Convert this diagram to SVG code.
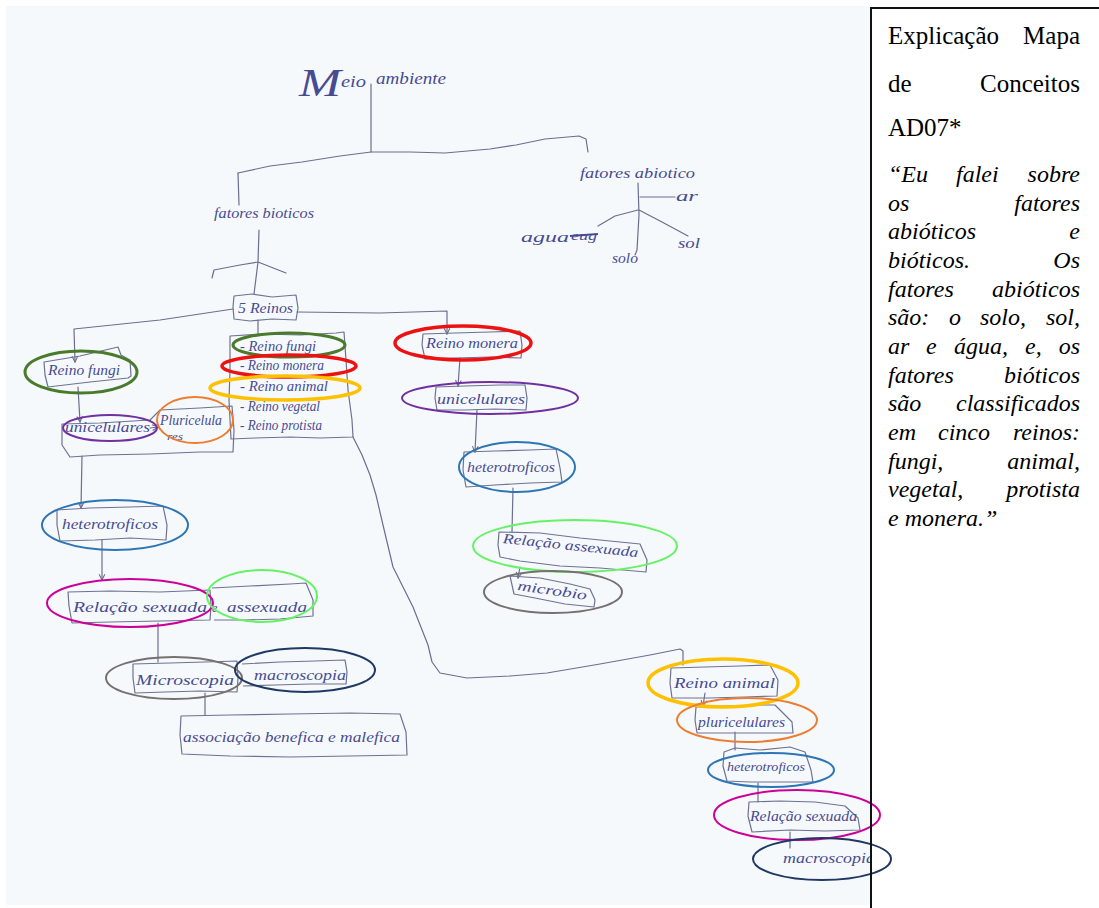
<svg xmlns="http://www.w3.org/2000/svg" width="1099" height="908" viewBox="0 0 1099 908">
  <style>
    .ink { font-family: "Liberation Serif", "DejaVu Serif", serif; font-style: italic; fill: #474b92; font-size: 14px; }
    .pen { fill: none; stroke: #6a6e90; stroke-width: 1.2; stroke-linecap: round; stroke-linejoin: round; }
    .box { fill: none; stroke: #6e7293; stroke-width: 1.2; stroke-linejoin: round; }
    .ring { fill: none; }
    .doc { font-family: "Liberation Serif", "Times New Roman", serif; fill: #000; font-size: 25px; }
    .quote { font-family: "Liberation Serif", "Times New Roman", serif; font-style: italic; fill: #000; font-size: 24px; }
    .end { text-anchor: end; }
  </style>
  <defs>
    <marker id="tip" viewBox="0 0 10 10" refX="9" refY="5" markerWidth="6" markerHeight="6" orient="auto">
      <path d="M1,1 L9,5 L1,9" fill="none" stroke="#6a6e90" stroke-width="1.5"/>
    </marker>
    <clipPath id="sheet">
      <rect x="6" y="6" width="864" height="899"/>
    </clipPath>
  </defs>

  <!-- paper -->
  <rect x="0" y="0" width="1099" height="908" fill="#ffffff"/>
  <rect x="6" y="6" width="864" height="899" fill="#f6f9fb"/>

  <!-- connectors -->
  <g id="connectors" class="pen">
    <path d="M371,84 L371,152"/>
    <path d="M238,173 L270,166 L302,162 L340,156 L371,152 L410,152 L445,153 L490,149 L516,145 L545,139 L579,136 L586,139 L588,152"/>
    <path d="M238,173 L239,205"/>
    <path d="M259,230 L258,262 M212,278 L214,270 L240,265 L258,262 L286,273 M258,262 L254,294"/>
    <path d="M638,183 L639,215 L637,250 L635,255"/>
    <path d="M640,197 L675,197"/>
    <path d="M638,210 L615,216 L598,226"/>
    <path d="M639,210 L662,222 L688,236"/>
    <path d="M233,309 L160,320 L74,329 L75,362" marker-end="url(#tip)"/>
    <path d="M297,312 L380,313 L447,311 L447,334" marker-end="url(#tip)"/>
    <path d="M258,320 L258,334"/>
    <path d="M353,437 L362,455 L370,475 L376,495 L383,525 L393,567 L413,607 L428,645 L432,662 L440,673 L467,678 L510,676 L547,673 L600,664 L650,655 L680,649 L683,651 L683,665"/>
    <path d="M78,387 L80,422" marker-end="url(#tip)"/>
    <path d="M150,428 L158,427" marker-end="url(#tip)"/>
    <path d="M82,456 L81,508" marker-end="url(#tip)"/>
    <path d="M102,540 L102,580" marker-end="url(#tip)"/>
    <path d="M158,623 L158,662"/>
    <path d="M205,693 L205,715"/>
    <path d="M460,358 L458,386" marker-end="url(#tip)"/>
    <path d="M477,410 L475,452" marker-end="url(#tip)"/>
    <path d="M513,488 L512,532"/>
    <path d="M520,567 L518,578" marker-end="url(#tip)"/>
    <path d="M705,693 L703,706" marker-end="url(#tip)"/>
    <path d="M735,732 L735,750"/>
    <path d="M758,783 L758,802"/>
    <path d="M790,832 L790,848"/>
  </g>

  <!-- hand-written map -->
  <g clip-path="url(#sheet)">
    <g id="meio-ambiente">
      <text class="ink" x="299" y="96" style="font-size:40px" textLength="42" lengthAdjust="spacingAndGlyphs">M</text>
      <text class="ink" x="341" y="87" style="font-size:17px" textLength="25" lengthAdjust="spacingAndGlyphs">eio</text>
      <text class="ink" x="376" y="84" style="font-size:16px" textLength="70" lengthAdjust="spacingAndGlyphs">ambiente</text>
    </g>
    <g id="fatores-bioticos">
      <text class="ink" x="214" y="218" textLength="100" lengthAdjust="spacingAndGlyphs">fatores bioticos</text>
    </g>
    <g id="fatores-abioticos">
      <text class="ink" x="580" y="178" textLength="115" lengthAdjust="spacingAndGlyphs">fatores abiotico</text>
    </g>
    <g id="ar"><text class="ink" x="676" y="201" textLength="22" lengthAdjust="spacingAndGlyphs">ar</text></g>
    <g id="agua">
      <text class="ink" x="521" y="242" textLength="48" lengthAdjust="spacingAndGlyphs">agua</text>
      <text class="ink" x="571" y="240" style="font-size:13px" textLength="26" lengthAdjust="spacingAndGlyphs">eug</text>
      <path d="M570,236 L598,234" fill="none" stroke="#474b92" stroke-width="2"/>
    </g>
    <g id="solo"><text class="ink" x="612" y="263" textLength="26" lengthAdjust="spacingAndGlyphs">solo</text></g>
    <g id="sol"><text class="ink" x="678" y="248" textLength="22" lengthAdjust="spacingAndGlyphs">sol</text></g>

    <g id="cinco-reinos">
      <path class="box" d="M234,296 L252,294 L272,297 L296,295 L298,308 L296,320 L272,319 L250,321 L234,319 L233,307 Z"/>
      <text class="ink" x="238" y="313" textLength="55" lengthAdjust="spacingAndGlyphs">5 Reinos</text>
    </g>
    <g id="lista-reinos">
      <path class="box" d="M230,336 L262,334 L300,335 L336,333 L344,332 L346,360 L348,390 L352,420 L353,437 L320,438 L290,437 L255,438 L231,439 L229,400 L230,370 Z"/>
      <text class="ink" x="240" y="351" textLength="76" lengthAdjust="spacingAndGlyphs">- Reino fungi</text>
      <text class="ink" x="240" y="370" textLength="84" lengthAdjust="spacingAndGlyphs">- Reino monera</text>
      <text class="ink" x="240" y="391" textLength="88" lengthAdjust="spacingAndGlyphs">- Reino animal</text>
      <text class="ink" x="240" y="411" textLength="80" lengthAdjust="spacingAndGlyphs">- Reino vegetal</text>
      <text class="ink" x="240" y="430" textLength="82" lengthAdjust="spacingAndGlyphs">- Reino protista</text>
    </g>

    <g id="reino-fungi">
      <path class="box" d="M44,362 L80,356 L118,347 L121,355 L130,360 L131,376 L128,378 L90,382 L48,387 L45,375 Z"/>
      <text class="ink" x="48" y="375" textLength="72" lengthAdjust="spacingAndGlyphs">Reino fungi</text>
    </g>
    <g id="celulas-fungi">
      <path class="box" d="M62,424 L100,423 L150,420 L160,410 L200,408 L232,406 L234,430 L233,452 L200,452 L150,454 L100,455 L70,457 L62,445 Z"/>
      <text class="ink" x="65" y="432" textLength="85" lengthAdjust="spacingAndGlyphs">unicelulares</text>
      <text class="ink" x="160" y="425" textLength="62" lengthAdjust="spacingAndGlyphs">Pluricelula</text>
      <text class="ink" x="167" y="440" style="font-size:11px" textLength="16" lengthAdjust="spacingAndGlyphs">res</text>
    </g>
    <g id="heterotroficos-fungi">
      <path class="box" d="M57,510 L90,508 L130,507 L163,506 L167,525 L166,540 L130,538 L95,540 L60,541 L57,525 Z"/>
      <text class="ink" x="62" y="529" textLength="96" lengthAdjust="spacingAndGlyphs">heterotroficos</text>
    </g>
    <g id="relacao-sexuada-fungi">
      <path class="box" d="M68,592 L110,591 L160,592 L210,590 L211,606 L210,620 L160,621 L110,622 L72,623 L69,606 Z"/>
      <text class="ink" x="73" y="612" textLength="134" lengthAdjust="spacingAndGlyphs">Relação sexuada</text>
      <text class="ink" x="212" y="612" style="font-size:12px">e</text>
    </g>
    <g id="assexuada-fungi">
      <path class="box" d="M212,588 L250,586 L290,584 L306,583 L313,600 L313,616 L280,619 L245,620 L214,620"/>
      <text class="ink" x="227" y="612" textLength="80" lengthAdjust="spacingAndGlyphs">assexuada</text>
    </g>
    <g id="microscopia">
      <path class="box" d="M133,664 L170,663 L205,662 L237,661 L238,678 L237,692 L200,691 L165,692 L135,693 L133,678 Z"/>
      <text class="ink" x="136" y="685" style="font-size:15px" textLength="98" lengthAdjust="spacingAndGlyphs">Microscopia</text>
    </g>
    <g id="macroscopia-fungi">
      <path class="box" d="M242,664 L280,662 L315,661 L345,660 L347,672 L346,684 L310,684 L275,685 L243,686"/>
      <text class="ink" x="254" y="680" textLength="92" lengthAdjust="spacingAndGlyphs">macroscopia</text>
    </g>
    <g id="associacao">
      <path class="box" d="M181,716 L230,715 L290,714 L350,713 L400,714 L406,732 L407,755 L350,756 L290,757 L230,756 L182,754 L180,735 Z"/>
      <text class="ink" x="183" y="742" textLength="217" lengthAdjust="spacingAndGlyphs">associação benefica e malefica</text>
    </g>

    <g id="reino-monera">
      <path class="box" d="M423,334 L455,333 L490,332 L520,331 L522,345 L521,358 L490,357 L455,358 L425,359 L422,345 Z"/>
      <text class="ink" x="426" y="348" textLength="92" lengthAdjust="spacingAndGlyphs">Reino monera</text>
    </g>
    <g id="unicelulares-monera">
      <path class="box" d="M436,387 L465,386 L500,385 L525,385 L527,398 L526,410 L495,409 L465,410 L437,410 L435,398 Z"/>
      <text class="ink" x="437" y="404" textLength="88" lengthAdjust="spacingAndGlyphs">unicelulares</text>
    </g>
    <g id="heterotroficos-monera">
      <path class="box" d="M464,452 L495,451 L530,450 L556,449 L560,468 L562,482 L530,483 L495,485 L466,487 L463,470 Z"/>
      <text class="ink" x="467" y="472" textLength="88" lengthAdjust="spacingAndGlyphs">heterotroficos</text>
    </g>
    <g id="relacao-assexuada-monera">
      <path class="box" d="M499,532 L540,533 L580,538 L620,542 L640,544 L647,560 L646,572 L600,568 L560,566 L520,561 L500,557 L498,545 Z"/>
      <text class="ink" x="502" y="550" transform="rotate(6 570 552)" textLength="136" lengthAdjust="spacingAndGlyphs">Relação assexuada</text>
    </g>
    <g id="microbio">
      <path class="box" d="M510,576 L540,578 L570,584 L590,589 L595,600 L594,607 L565,604 L535,598 L514,594 L512,585 Z"/>
      <text class="ink" x="517" y="595" transform="rotate(8 552 592)" textLength="70" lengthAdjust="spacingAndGlyphs">microbio</text>
    </g>

    <g id="reino-animal">
      <path class="box" d="M671,668 L705,667 L740,666 L770,665 L778,680 L777,696 L745,697 L710,698 L672,698 L670,683 Z"/>
      <text class="ink" x="674" y="688" textLength="101" lengthAdjust="spacingAndGlyphs">Reino animal</text>
    </g>
    <g id="pluricelulares-animal">
      <path class="box" d="M696,707 L725,706 L760,705 L775,705 L792,722 L793,733 L760,733 L725,733 L697,733 L695,720 Z"/>
      <text class="ink" x="698" y="727" textLength="87" lengthAdjust="spacingAndGlyphs">pluricelulares</text>
    </g>
    <g id="heterotroficos-animal">
      <path class="box" d="M724,752 L735,748 L760,750 L790,747 L805,752 L811,770 L813,782 L780,782 L750,782 L727,781 L723,766 Z"/>
      <text class="ink" x="727" y="771" style="font-size:13px" textLength="78" lengthAdjust="spacingAndGlyphs">heterotroficos</text>
    </g>
    <g id="relacao-sexuada-animal">
      <path class="box" d="M749,802 L780,801 L815,802 L845,806 L858,818 L860,830 L825,831 L790,830 L752,832 L748,816 Z"/>
      <text class="ink" x="750" y="821" textLength="107" lengthAdjust="spacingAndGlyphs">Relação sexuada</text>
    </g>
    <g id="macroscopia-animal">
      <text class="ink" x="783" y="863" textLength="92" lengthAdjust="spacingAndGlyphs">macroscopia</text>
    </g>
  </g>

  <!-- coloured highlight rings -->
  <g id="rings" class="ring">
    <ellipse cx="81" cy="372" rx="56" ry="21" stroke="#4a7a2c" stroke-width="3"/>
    <ellipse cx="289" cy="345" rx="56" ry="12" stroke="#4a7a2c" stroke-width="3"/>
    <ellipse cx="289" cy="366" rx="67" ry="11" stroke="#ee1111" stroke-width="3.5"/>
    <ellipse cx="285" cy="388" rx="75" ry="12" stroke="#ffc000" stroke-width="3.5"/>
    <ellipse cx="110" cy="428" rx="47" ry="13" stroke="#7030a0" stroke-width="2"/>
    <ellipse cx="195" cy="420" rx="38" ry="23" stroke="#ed7d31" stroke-width="2"/>
    <ellipse cx="115" cy="525" rx="73" ry="25" stroke="#2e75b6" stroke-width="2"/>
    <ellipse cx="130" cy="603" rx="83" ry="24" stroke="#cc0099" stroke-width="2"/>
    <ellipse cx="262" cy="596" rx="55" ry="26" stroke="#66f266" stroke-width="2"/>
    <ellipse cx="174" cy="678" rx="68" ry="21" stroke="#767171" stroke-width="2"/>
    <ellipse cx="305" cy="670" rx="70" ry="22" stroke="#1f3864" stroke-width="2"/>
    <ellipse cx="463" cy="343" rx="68" ry="17" stroke="#ee1111" stroke-width="3.5"/>
    <ellipse cx="490" cy="398" rx="88" ry="16" stroke="#7030a0" stroke-width="2"/>
    <ellipse cx="517" cy="467" rx="58" ry="25" stroke="#2e75b6" stroke-width="2"/>
    <ellipse cx="575" cy="546" rx="102" ry="26" stroke="#66f266" stroke-width="2"/>
    <ellipse cx="553" cy="592" rx="69" ry="21" stroke="#767171" stroke-width="2"/>
    <ellipse cx="723" cy="683" rx="75" ry="24" stroke="#ffc000" stroke-width="3.5"/>
    <ellipse cx="747" cy="720" rx="70" ry="22" stroke="#ed7d31" stroke-width="2"/>
    <ellipse cx="771" cy="770" rx="63" ry="17" stroke="#2e75b6" stroke-width="2"/>
    <ellipse cx="797" cy="815" rx="83" ry="25" stroke="#cc0099" stroke-width="2"/>
    <ellipse cx="822" cy="859" rx="69" ry="21" stroke="#1f3864" stroke-width="2"/>
  </g>

  <!-- explanation panel: justified lines, words placed one by one -->
  <g id="explicacao">
    <path d="M871,908 L871,8 L1099,8" fill="none" stroke="#111" stroke-width="2"/>
    <text class="doc" x="888" y="44">Explicação</text>
    <text class="doc end" x="1080" y="44">Mapa</text>
    <text class="doc" x="888" y="92">de</text>
    <text class="doc end" x="1080" y="92">Conceitos</text>
    <text class="doc" x="888" y="136">AD07*</text>

    <text class="quote" x="888" y="182">“Eu</text>
    <text class="quote" x="956" y="182">falei</text>
    <text class="quote end" x="1080" y="182">sobre</text>

    <text class="quote" x="888" y="211">os</text>
    <text class="quote end" x="1080" y="211">fatores</text>

    <text class="quote" x="888" y="239">abióticos</text>
    <text class="quote end" x="1080" y="239">e</text>

    <text class="quote" x="888" y="268">bióticos.</text>
    <text class="quote end" x="1080" y="268">Os</text>

    <text class="quote" x="888" y="297">fatores</text>
    <text class="quote end" x="1080" y="297">abióticos</text>

    <text class="quote" x="888" y="325">são:</text>
    <text class="quote" x="949" y="325">o</text>
    <text class="quote" x="980" y="325">solo,</text>
    <text class="quote end" x="1080" y="325">sol,</text>

    <text class="quote" x="888" y="354">ar</text>
    <text class="quote" x="926" y="354">e</text>
    <text class="quote" x="954" y="354">água,</text>
    <text class="quote" x="1025" y="354">e,</text>
    <text class="quote end" x="1080" y="354">os</text>

    <text class="quote" x="888" y="383">fatores</text>
    <text class="quote end" x="1080" y="383">bióticos</text>

    <text class="quote" x="888" y="411">são</text>
    <text class="quote end" x="1080" y="411">classificados</text>

    <text class="quote" x="888" y="440">em</text>
    <text class="quote" x="938" y="440">cinco</text>
    <text class="quote end" x="1080" y="440">reinos:</text>

    <text class="quote" x="888" y="469">fungi,</text>
    <text class="quote end" x="1080" y="469">animal,</text>

    <text class="quote" x="888" y="497">vegetal,</text>
    <text class="quote end" x="1080" y="497">protista</text>

    <text class="quote" x="888" y="526">e monera.”</text>
  </g>
</svg>
